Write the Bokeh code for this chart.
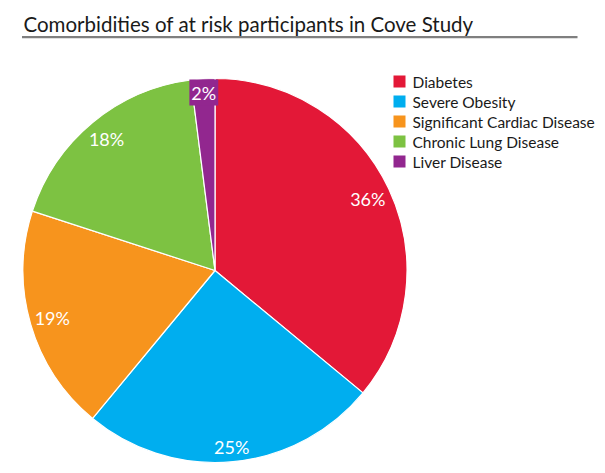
import numpy as np
from bokeh.plotting import figure
from bokeh.models import Range1d, ColumnDataSource
from bokeh.core.properties import value
from bokeh.embed import file_html
from bokeh.resources import INLINE

categories = ["Diabetes", "Severe Obesity", "Significant Cardiac Disease", "Chronic Lung Disease", "Liver Disease"]
percents = [36, 25, 19, 18, 2]
colors = ["#E31837", "#00AEEF", "#F7941D", "#7DC242", "#92278F"]
title_text = "Comorbidities of at risk participants in Cove Study"

W, H = 605, 473
FONT = "Lato"

p = figure(width=W, height=H, x_range=Range1d(0, W), y_range=Range1d(0, H),
           output_backend="svg", toolbar_location=None, min_border=0)
p.axis.visible = False
p.grid.visible = False
p.outline_line_color = None
p.background_fill_color = "white"

# pie geometry
cx, cy, R = 214.5, 203.0, 192.0
vals = np.array(percents, dtype=float)
frac = vals / vals.sum()
cum_end = np.cumsum(frac)
cum_start = cum_end - frac
start_angle = np.pi / 2 - cum_end * 2 * np.pi
end_angle = np.pi / 2 - cum_start * 2 * np.pi
mid = np.pi / 2 - (cum_start + frac / 2) * 2 * np.pi

labels = [f"{v}%" for v in percents]
# "inside end" placement: pull each label in by its box extent along the radius
hw = np.array([6.0 * len(s) - 0.5 for s in labels])
hh = 10.0
extent = hw * np.abs(np.cos(mid)) + hh * np.abs(np.sin(mid))
lr = R - 3.0 - extent

src = ColumnDataSource(dict(
    cat=categories, color=colors, start=start_angle, end=end_angle,
    lx=cx + lr * np.cos(mid), ly=cy + lr * np.sin(mid),
    lab=labels,
    bga=np.where(frac < 0.05, 1.0, 0.0),
))

p.wedge(x=cx, y=cy, radius=R, start_angle="start", end_angle="end",
        fill_color="color", line_color="white", line_width=1.2, source=src)

p.text(x="lx", y="ly", text="lab", source=src, text_color="white",
       text_font=value(FONT), text_font_size="18px", text_align="center",
       text_baseline="middle", background_fill_color="color",
       background_fill_alpha="bga", padding=2)

# title
p.text(x=[23], y=[450], text=[title_text], text_font=value(FONT),
       text_font_size="20.5px", text_color="#1a1a1a", text_baseline="alphabetic")
p.segment(x0=21.5, y0=436.3, x1=577, y1=436.3, line_color="#7f7f7f", line_width=2.2)

# legend
n = len(categories)
leg_y = 392 - 20 * np.arange(n)
leg = ColumnDataSource(dict(y=leg_y, color=colors, cat=categories))
p.rect(x=399, y="y", width=12, height=12, fill_color="color", line_color=None, source=leg)
p.text(x=412, y="y", text="cat", source=leg, text_color="#1a1a1a",
       text_font=value(FONT), text_font_size="15.5px", text_baseline="middle")

open("out.html", "w").write(file_html(p, INLINE))
